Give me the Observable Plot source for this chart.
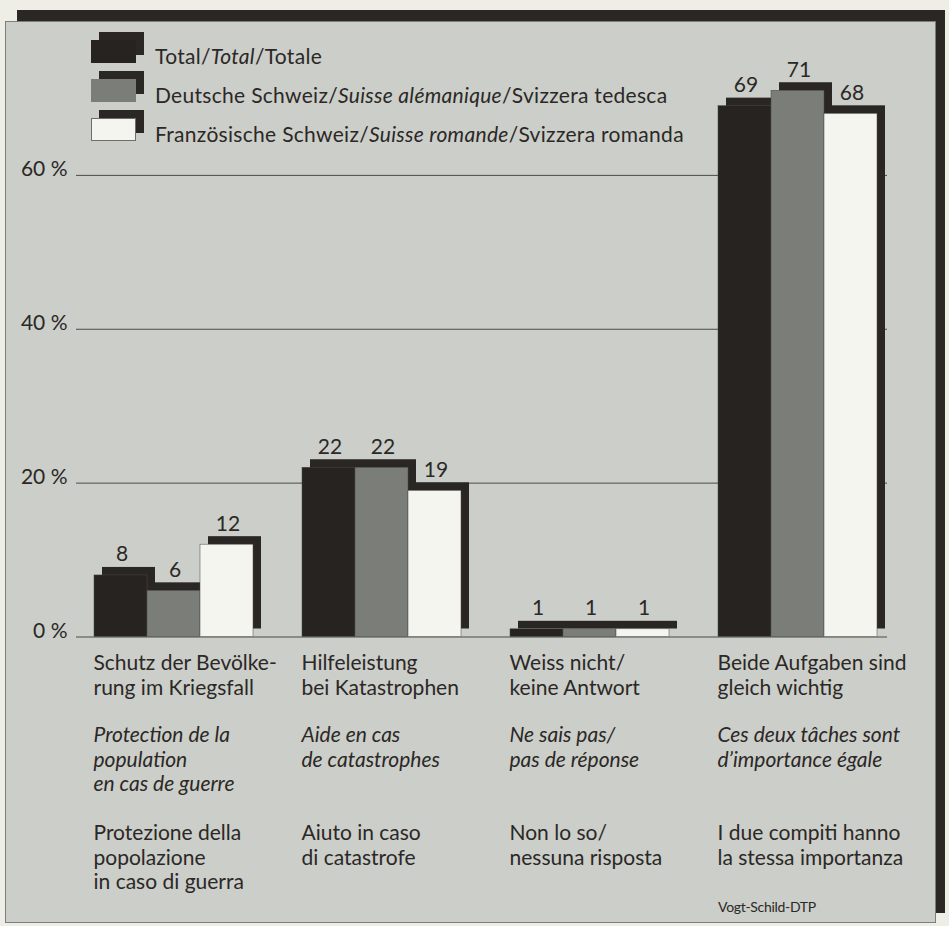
<!DOCTYPE html>
<html><head><meta charset="utf-8">
<script src="https://cdn.jsdelivr.net/npm/d3@7"></script>
<script src="https://cdn.jsdelivr.net/npm/@observablehq/plot@0.6"></script>
<style>
html,body{margin:0;padding:0;background:#eeede6;}
body{width:949px;height:926px;position:relative;overflow:hidden;font-family:Lato,sans-serif;color:#2b2826;}
#shadow{position:absolute;left:17px;top:10px;width:928px;height:903px;background:#2b2725;}
#panel{position:absolute;left:5px;top:21px;width:931px;height:902px;background:#cbcec9;border:1px solid #7d7e79;box-sizing:border-box;}
#grid,#chart{position:absolute;left:0;top:0;}
.item{position:absolute;left:0;width:949px;height:40px;}
.sh{position:absolute;left:99px;width:45px;height:23px;background:#2b2725;}
.sw{position:absolute;left:91px;width:45px;height:23px;box-sizing:border-box;}
.lt{position:absolute;left:155px;font-size:21px;line-height:21px;letter-spacing:0.3px;white-space:nowrap;}
#caption{position:absolute;left:718px;top:900px;font-size:14px;line-height:14px;letter-spacing:-0.3px;}
</style>
</head><body>
<div id="shadow"></div>
<div id="panel"></div>
<div id="grid"></div>
<div id="chart"></div>
<div id="legend"></div>
<div id="caption"></div>
<script>
const categories = ["Schutz", "Hilfe", "Weiss", "Beide"];
const series = ["Total", "Deutsche Schweiz", "Französische Schweiz"];
const total = [8, 22, 1, 69];
const deutsch = [6, 22, 1, 71];
const romand = [12, 19, 1, 68];
const yTicks = [0, 20, 40, 60];
const labelsDE = ["Schutz der Bevölke-\nrung im Kriegsfall", "Hilfeleistung\nbei Katastrophen", "Weiss nicht/\nkeine Antwort", "Beide Aufgaben sind\ngleich wichtig"];
const labelsFR = ["Protection de la\npopulation\nen cas de guerre", "Aide en cas\nde catastrophes", "Ne sais pas/\npas de réponse", "Ces deux tâches sont\nd’importance égale"];
const labelsIT = ["Protezione della\npopolazione\nin caso di guerra", "Aiuto in caso\ndi catastrofe", "Non lo so/\nnessuna risposta", "I due compiti hanno\nla stessa importanza"];
const legendLabels = ["Total/<i>Total</i>/Totale", "Deutsche Schweiz/<i>Suisse alémanique</i>/Svizzera tedesca", "Französische Schweiz/<i>Suisse romande</i>/Svizzera romanda"];
const seriesColors = ["#262321", "#7b7d79", "#f4f5ef"];
const caption = "Vogt-Schild-DTP";

const values = [total, deutsch, romand];
const rows = categories.flatMap((c, i) => series.map((s, j) => ({cat: c, series: s, value: values[j][i]})));
const ink = "#2b2826";
const font = "Lato, sans-serif";
const frame = {width: 949, height: 926, marginLeft: 76, marginRight: 62, marginTop: 21, marginBottom: 289.5};
const style = {background: "transparent", fontFamily: font, fontSize: "21px", color: ink, overflow: "visible"};

// background layer: gridlines and y tick labels across the whole frame
const grid = Plot.plot({
  ...frame, style,
  x: {axis: null},
  y: {domain: [0, 80], axis: null},
  marks: [
    Plot.ruleY(yTicks, {y: d => d, stroke: "#4b4b48", strokeWidth: 1}),
    Plot.text(yTicks, {y: d => d, text: d => `${d} %`, frameAnchor: "left", textAnchor: "end", lineAnchor: "bottom", dx: -9, dy: 1, fill: ink})
  ]
});
document.getElementById("grid").appendChild(grid);

// faceted bars
const chart = Plot.plot({
  ...frame, style,
  fx: {domain: categories, paddingInner: 0.225, paddingOuter: 0.053, align: 0.64, axis: null, label: null},
  x: {domain: series, padding: 0, axis: null},
  y: {domain: [0, 80], axis: null},
  color: {domain: series, range: seriesColors},
  marks: [
    Plot.barY(rows, {fx: "cat", x: "series", y: "value", fill: "#2a2624", dx: 8, dy: -8}),
    Plot.barY(rows, {fx: "cat", x: "series", y: "value", fill: "series", stroke: "#4a4a46", strokeWidth: 0.5}),
    Plot.text(rows, {fx: "cat", x: "series", y: "value", text: d => String(d.value), dy: -14, dx: 1, lineAnchor: "bottom", fill: ink}),
    Plot.text(categories, {fx: d => d, text: (d, i) => labelsDE[i], frameAnchor: "bottom-left", textAnchor: "start", lineAnchor: "top", lineHeight: 1.167, dy: 16, fill: ink}),
    Plot.text(categories, {fx: d => d, text: (d, i) => labelsFR[i], frameAnchor: "bottom-left", textAnchor: "start", lineAnchor: "top", lineHeight: 1.167, dy: 88, fontStyle: "italic", fill: ink}),
    Plot.text(categories, {fx: d => d, text: (d, i) => labelsIT[i], frameAnchor: "bottom-left", textAnchor: "start", lineAnchor: "top", lineHeight: 1.167, dy: 186, fill: ink})
  ]
});
document.getElementById("chart").appendChild(chart);

const legend = document.getElementById("legend");
const rowTops = [40, 79, 118];
series.forEach((s, i) => {
  const item = document.createElement("div");
  item.className = "item";
  item.style.top = rowTops[i] + "px";
  item.innerHTML = `<div class="sh" style="top:-8px"></div><div class="sw" style="top:0;background:${seriesColors[i]};border:${i === 2 ? "1px solid #6e6e6a" : "none"}"></div><div class="lt" style="top:4.5px">${legendLabels[i]}</div>`;
  legend.appendChild(item);
});
document.getElementById("caption").textContent = caption;
</script>
</body></html>
